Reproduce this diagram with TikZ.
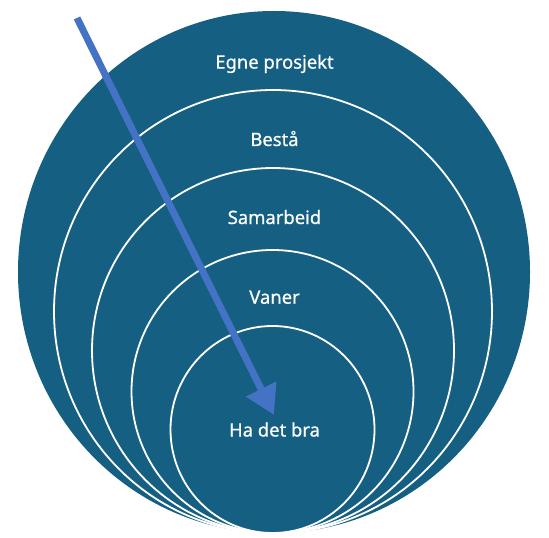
\documentclass[tikz,border=0pt]{standalone}
\usepackage{fontspec}
\setmainfont{Noto Sans}
\usetikzlibrary{arrows.meta}
\definecolor{ringfill}{HTML}{156082}
\definecolor{arrowblue}{HTML}{4472C4}
\tikzset{
  ring/.style={fill=ringfill, draw=white, line width=1.8bp},
  lbl/.style={text=white, font=\fontsize{18.5}{20}\selectfont\addfontfeature{FakeBold=0.6}, anchor=base, inner sep=0pt},
  bigarrow/.style={draw=arrowblue, line width=7bp, -{Triangle[length=29bp,width=32bp]}}
}
\begin{document}
\begin{tikzpicture}[x=1bp,y=-1bp]
\useasboundingbox (0,0) rectangle (549,538);
% rings, all tangent at bottom point (273,533)
\fill[ringfill] (274,272) ellipse [x radius=256, y radius=261];
\draw[ring] (273,311.5) ellipse [x radius=219, y radius=221.5];
\draw[ring] (273,350.5) ellipse [x radius=181, y radius=182.5];
\draw[ring] (272.5,391.5) ellipse [x radius=141, y radius=141.5];
\draw[ring] (272.5,429.5) ellipse [x radius=102, y radius=103.5];
% labels
\node[lbl] (egne) at (274.5,68.6) {Egne prosjekt};
\node[lbl] (besta) at (274.5,146) {Bestå};
\node[lbl] (samarbeid) at (274.5,224) {Samarbeid};
\node[lbl] (vaner) at (274.5,303.7) {Vaner};
\node[lbl] (hadet) at (274.5,436.5) {Ha det bra};
% arrow
\coordinate (astart) at (77,18);
\coordinate (aend) at (274,415);
\draw[bigarrow] (astart) -- (aend);
\end{tikzpicture}
\end{document}
